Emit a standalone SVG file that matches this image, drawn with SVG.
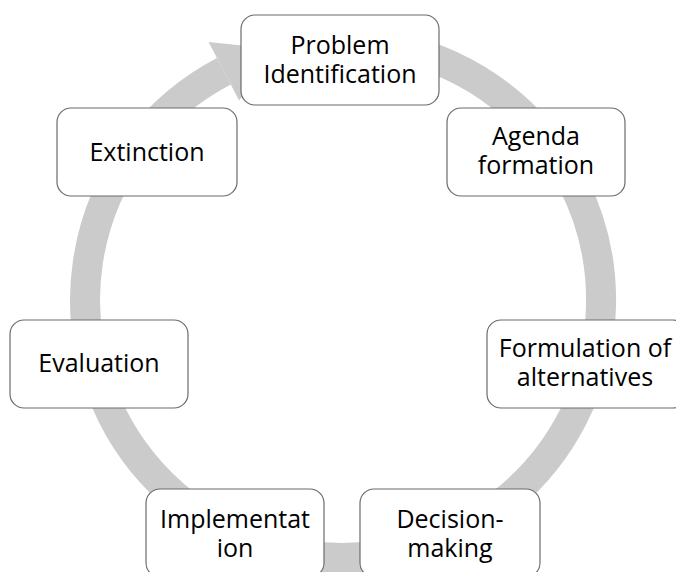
<svg xmlns="http://www.w3.org/2000/svg" width="676" height="572" viewBox="0 0 676 572">
<style>
.node rect{fill:#fff;stroke:#6b6b6b;stroke-width:1.2}
.node text{font-family:"Open Sans","Noto Sans",sans-serif;font-size:25px;fill:#000;text-anchor:middle}
.ring{fill:none;stroke:#cbcbcb;stroke-width:30;stroke-linecap:butt}
.head{fill:#cbcbcb}
</style>
<rect width="676" height="572" fill="#fff"/>
<g id="connectors">
<path class="ring" d="M383.4 45.2 A258 258 0 1 1 223.9 71.2"/>
<polygon class="head" points="208.6,41.9 280.6,49.7 239.1,100.4"/>
</g>
<g id="n1" class="node"><rect x="241" y="15" width="198" height="90" rx="14"/><text x="340" y="54">Problem</text><text x="340" y="83">Identification</text></g>
<g id="n2" class="node"><rect x="447" y="108" width="178" height="88" rx="14"/><text x="536" y="145">Agenda</text><text x="536" y="174">formation</text></g>
<g id="n3" class="node"><rect x="487" y="320" width="200" height="88" rx="14"/><text x="585" y="357">Formulation of</text><text x="585" y="386">alternatives</text></g>
<g id="n4" class="node"><rect x="360" y="489" width="180" height="88" rx="14"/><text x="450" y="528">Decision-</text><text x="450" y="557">making</text></g>
<g id="n5" class="node"><rect x="146" y="489" width="178" height="88" rx="14"/><text x="235" y="528">Implementat</text><text x="235" y="557">ion</text></g>
<g id="n6" class="node"><rect x="10" y="320" width="178" height="88" rx="14"/><text x="99" y="372">Evaluation</text></g>
<g id="n7" class="node"><rect x="57" y="108" width="180" height="88" rx="14"/><text x="147" y="161">Extinction</text></g>
</svg>
